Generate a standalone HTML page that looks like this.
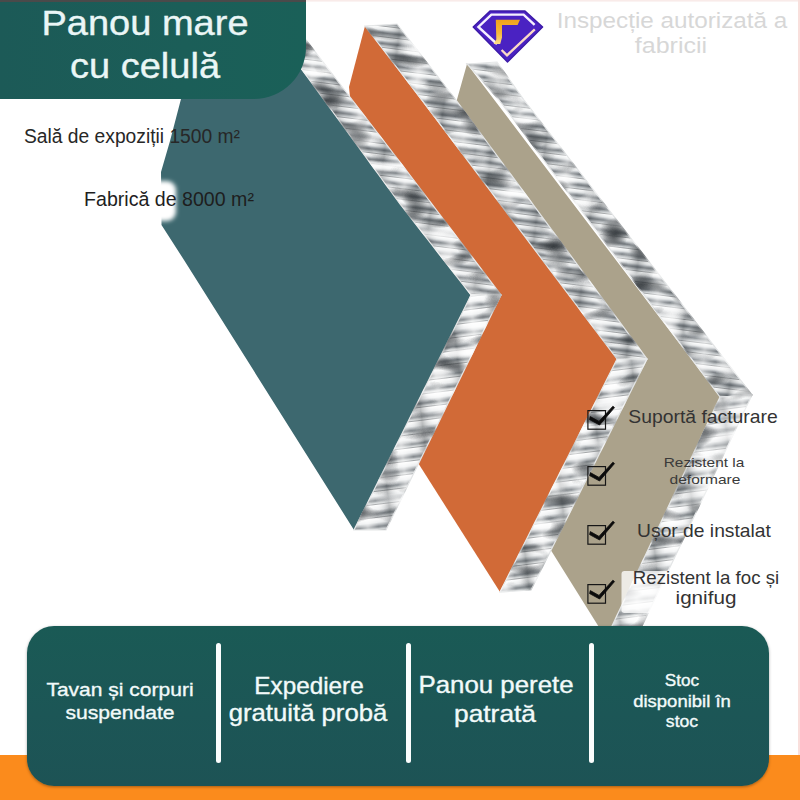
<!DOCTYPE html>
<html lang="ro">
<head>
<meta charset="utf-8">
<title>Panou mare cu celulă</title>
<style>
  html, body { margin: 0; padding: 0; background: #ffffff; }
  body { width: 800px; height: 800px; overflow: hidden; position: relative;
         font-family: "Liberation Sans", "DejaVu Sans", sans-serif; }
  #stage { position: absolute; left: 0; top: 0; width: 800px; height: 800px; overflow: hidden; background: #fff; }
  #art { position: absolute; left: 0; top: 0; width: 800px; height: 800px; display: block; }
  .t { position: absolute; white-space: nowrap; text-align: center; transform: translateX(-50%); transform-origin: 50% 50%; }
  /* header */
  #topstrip { position: absolute; left: 0; top: 0; width: 306px; height: 3px; background: #4a4a4a; }
  #header { position: absolute; left: 0; top: 2px; width: 306px; height: 97px; background: linear-gradient(90deg, #1c5a57 0%, #1b5e58 60%, #1a6058 100%);
            border-bottom-right-radius: 52px; }
  /* bottom */
  #orange { position: absolute; left: 0; top: 755px; width: 800px; height: 45px; background: #fb8b1c; }
  #bar { position: absolute; left: 27px; top: 626.3px; width: 742px; height: 160.2px; background: linear-gradient(180deg, #1a5a55 0%, #1c5656 55%, #1d5355 100%);
         border-radius: 27px; box-shadow: 0 1px 3px rgba(0,0,0,0.35); }
  .sep { position: absolute; width: 5.4px; border-radius: 2.7px; background: #fbfdfd; top: 642.5px; height: 120.5px; }
  .ck { position: absolute; overflow: visible; }
  .ck rect { fill: none; stroke: #161616; stroke-width: 1.2; }
  .ck polygon { fill: #0b0b0b; stroke: #0b0b0b; stroke-width: 0.8; stroke-linejoin: round; }
  .w { color: #f4fbfb; }
  .k { color: #2e2e2e; }
</style>
</head>
<body>
<div id="stage">
  <svg id="art" width="800" height="800" viewBox="0 0 800 800">

    <defs>
      <linearGradient id="hcg" x1="0" y1="0" x2="0" y2="1">
        <stop offset="0" stop-color="#3f4448"/>
        <stop offset="0.09" stop-color="#fbfcfc"/>
        <stop offset="0.36" stop-color="#e4e7e8"/>
        <stop offset="0.50" stop-color="#a9aeb2"/>
        <stop offset="0.66" stop-color="#6f757a"/>
        <stop offset="0.84" stop-color="#aeb3b6"/>
        <stop offset="1" stop-color="#d9dcde"/>
      </linearGradient>
      <linearGradient id="hcv" x1="0" y1="0" x2="1" y2="0">
        <stop offset="0" stop-color="#ffffff" stop-opacity="0.55"/>
        <stop offset="0.25" stop-color="#ffffff" stop-opacity="0"/>
        <stop offset="0.55" stop-color="#20262a" stop-opacity="0.28"/>
        <stop offset="0.8" stop-color="#ffffff" stop-opacity="0.1"/>
        <stop offset="1" stop-color="#ffffff" stop-opacity="0.55"/>
      </linearGradient>
      <pattern id="hcA" width="53" height="10.6" patternUnits="userSpaceOnUse" patternTransform="rotate(7)">
        <rect width="53" height="10.6" fill="url(#hcg)"/>
        <rect width="53" height="10.6" fill="url(#hcv)"/>
      </pattern>
      <linearGradient id="hcg2" x1="0" y1="0" x2="0" y2="1">
        <stop offset="0" stop-color="#4a5054"/>
        <stop offset="0.08" stop-color="#ffffff"/>
        <stop offset="0.42" stop-color="#eceeef"/>
        <stop offset="0.58" stop-color="#b7bbbe"/>
        <stop offset="0.76" stop-color="#7a8085"/>
        <stop offset="0.9" stop-color="#c5c9cb"/>
        <stop offset="1" stop-color="#e8eaeb"/>
      </linearGradient>
      <pattern id="hcB" width="43" height="13" patternUnits="userSpaceOnUse" patternTransform="rotate(-7)">
        <rect width="43" height="13" fill="url(#hcg2)"/>
        <rect width="43" height="13" fill="url(#hcv)"/>
      </pattern>
      <filter id="foil" filterUnits="userSpaceOnUse" x="0" y="0" width="800" height="800" color-interpolation-filters="sRGB">
        <feTurbulence type="fractalNoise" baseFrequency="0.035 0.075" numOctaves="1" seed="4" result="n"/>
        <feColorMatrix in="n" type="matrix" values="0 0 0 0 0  0 0 0 0 0  0 0 0 0 0  3.0 0 0 0 -1.55" result="a"/>
        <feFlood flood-color="#2b3034" result="dk"/>
        <feComposite in="dk" in2="a" operator="in" result="dark"/>
        <feColorMatrix in="n" type="matrix" values="0 0 0 0 0  0 0 0 0 0  0 0 0 0 0  0 -3.6 0 0 1.75" result="b"/>
        <feFlood flood-color="#ffffff" result="wh"/>
        <feComposite in="wh" in2="b" operator="in" result="light"/>
        <feMerge result="ov"><feMergeNode in="light"/><feMergeNode in="dark"/></feMerge>
        <feComposite in="ov" in2="SourceAlpha" operator="in" result="ovc"/>
        <feMerge><feMergeNode in="SourceGraphic"/><feMergeNode in="ovc"/></feMerge>
      </filter>
      <filter id="soft" x="-30%" y="-30%" width="160%" height="160%"><feGaussianBlur stdDeviation="2.2"/></filter>
      <filter id="soft4" x="-30%" y="-30%" width="160%" height="160%"><feGaussianBlur stdDeviation="4"/></filter>
    </defs>

    <!-- beige panel (back) -->
    <g id="beige">
      <polygon points="467,64 720,397 607,640 552,552 500,470 456,103" fill="#aba28b"/>
      <polygon points="467,64 497,62 524,100 752,395 720,397 499,100 471,68" fill="url(#hcA)" stroke="#e3e5e6" stroke-width="1.2" filter="url(#foil)"/>
      <polygon points="720,397 752,395 642,626 637,640 607,640 612,626" fill="url(#hcB)" stroke="#e3e5e6" stroke-width="1.2" filter="url(#foil)"/>
    </g>
    <!-- orange panel (middle) -->
    <g id="orangep">
      <polygon points="365,26 617,359 500,592 420,466 380,400 349,87" fill="#d16a37"/>
      <polygon points="365,26 397,24 456,100 647,359 617,359 422,100 368,30" fill="url(#hcA)" stroke="#e3e5e6" stroke-width="1.2" filter="url(#foil)"/>
      <polygon points="617,359 647,359 531,590 500,592" fill="url(#hcB)" stroke="#e3e5e6" stroke-width="1.2" filter="url(#foil)"/>
    </g>
    <!-- teal panel (front) -->
    <g id="tealp">
      <polygon points="181,99 181,50 288,50 300,67 400,204 471,295 354,530 184,260 161.5,225 161,172 170,141" fill="#3d686f"/>
      <polygon points="288,50 296,28 306,40 400,162 501,295 471,295 400,204 300,67" fill="url(#hcA)" stroke="#e3e5e6" stroke-width="1.2" filter="url(#foil)"/>
      <polygon points="471,295 501,295 386,530 354,530" fill="url(#hcB)" stroke="#e3e5e6" stroke-width="1.2" filter="url(#foil)"/>
    </g>
    <!-- translucent retouch patches behind checklist text -->
    <polygon points="712,434 752,434 716,506 680,506" fill="#ffffff" opacity="0.36" filter="url(#soft)"/>
    <rect x="716" y="405" width="84" height="28" rx="3" fill="#ffffff" opacity="0.42" filter="url(#soft)"/>
    <rect x="621.5" y="571" width="172" height="42" rx="3" fill="#ffffff" opacity="0.78"/>
    <!-- faint pink frame lines -->
    <rect x="306" y="0" width="494" height="1.6" fill="#f9ebe9"/>
    <rect x="798" y="0" width="2" height="756" fill="#f9dfdc"/>
    <!-- retouch blob left of teal panel -->
    <rect x="146" y="181" width="30" height="40" rx="9" fill="#ffffff" filter="url(#soft)"/>
  </svg>


  <!-- left captions -->

  <!-- top right badge -->
  <svg id="logo" style="position:absolute; left:470px; top:6.4px;" width="76" height="60" viewBox="0 0 76 60">
    <defs>
      <linearGradient id="gold" x1="0" y1="0" x2="0" y2="1">
        <stop offset="0" stop-color="#f0a21c"/>
        <stop offset="0.55" stop-color="#f6b93a"/>
        <stop offset="1" stop-color="#fbdc8a"/>
      </linearGradient>
    </defs>
    <polygon points="20,5 55,5 72.6,21 37.5,56 3.2,21" fill="#4a22c2" stroke="#3c1aa8" stroke-width="1.4" stroke-linejoin="round"/>
    <polyline points="27,38 8.4,21 21.4,8.6 53.6,8.6 64.6,18.8" fill="none" stroke="#f6f0ff" stroke-width="2.4" stroke-linejoin="miter"/>
    <polyline points="31.6,44 37,49.3 64.8,23.4" fill="none" stroke="#fbd9c6" stroke-width="2.4" stroke-linejoin="miter"/>
    <polygon points="25.8,13.8 50,13.8 47.6,19 32,19 32,31.5 30.2,38 23.6,38 26.3,33.6" fill="url(#gold)"/>
  </svg>

  <!-- checklist -->
  <svg class="ck" style="left:587px; top:410.2px;" width="20" height="20" viewBox="0 0 20 20"><rect x="0.9" y="0.6" width="17.6" height="18.6" /><polygon points="3.3,6.6 12.0,11.4 25.9,-3.8 27.5,-2.4 12.6,15.0 2.6,9.6"/></svg>
  <svg class="ck" style="left:587px; top:466.2px;" width="20" height="20" viewBox="0 0 20 20"><rect x="0.9" y="0.6" width="17.6" height="18.6" /><polygon points="3.3,6.6 12.0,11.4 25.9,-3.8 27.5,-2.4 12.6,15.0 2.6,9.6"/></svg>
  <svg class="ck" style="left:587px; top:525.0px;" width="20" height="20" viewBox="0 0 20 20"><rect x="0.9" y="0.6" width="17.6" height="18.6" /><polygon points="3.3,6.6 12.0,11.4 25.9,-3.8 27.5,-2.4 12.6,15.0 2.6,9.6"/></svg>
  <svg class="ck" style="left:587px; top:583.8px;" width="20" height="20" viewBox="0 0 20 20"><rect x="0.9" y="0.6" width="17.6" height="18.6" /><polygon points="3.3,6.6 12.0,11.4 25.9,-3.8 27.5,-2.4 12.6,15.0 2.6,9.6"/></svg>


  <div id="topstrip"></div>
  <div id="header"></div>

  <div id="orange"></div>
  <div id="bar"></div>
  <div class="sep" style="left:216.1px;"></div>
  <div class="sep" style="left:405.6px;"></div>
  <div class="sep" style="left:588.8px;"></div>

  <div class="t" id="hdr1" style="left:145.30px; top:2.53px; font-size:34.4px; line-height:41.3px; color:#eaf6f6; -webkit-text-stroke:0.35px #eaf6f6; transform:translateX(-50%) scaleX(1.1059);">Panou mare</div>
  <div class="t" id="hdr2" style="left:144.60px; top:46.43px; font-size:34.4px; line-height:41.3px; color:#eaf6f6; -webkit-text-stroke:0.35px #eaf6f6; transform:translateX(-50%) scaleX(1.1059);">cu celulă</div>
  <div class="t" id="cap1" style="left:131.90px; top:124.94px; font-size:19.5px; line-height:23.4px; color:#272727; transform:translateX(-50%) scaleX(0.9862);">Sală de expoziții 1500 m²</div>
  <div class="t" id="cap2" style="left:169.20px; top:187.91px; font-size:19.3px; line-height:23.2px; color:#1e1e1e; transform:translateX(-50%) scaleX(1.0156);">Fabrică de 8000 m²</div>
  <div class="t" id="insp1" style="left:671.90px; top:8.10px; font-size:21.8px; line-height:26.2px; color:#d7d7d7; transform:translateX(-50%) scaleX(1.1132);">Inspecție autorizată a</div>
  <div class="t" id="insp2" style="left:671.00px; top:33.10px; font-size:21.8px; line-height:26.2px; color:#d7d7d7; transform:translateX(-50%) scaleX(1.1475);">fabricii</div>
  <div class="t" id="c1" style="left:703.25px; top:406.22px; font-size:19.0px; line-height:22.8px; color:#333333; transform:translateX(-50%) scaleX(1.0171);">Suportă facturare</div>
  <div class="t" id="c2a" style="left:704.20px; top:455.04px; font-size:13.6px; line-height:16.3px; color:#3a3a3a; transform:translateX(-50%) scaleX(1.1352);">Rezistent la</div>
  <div class="t" id="c2b" style="left:704.85px; top:471.84px; font-size:13.6px; line-height:16.3px; color:#3a3a3a; transform:translateX(-50%) scaleX(1.1435);">deformare</div>
  <div class="t" id="c3" style="left:704.40px; top:519.99px; font-size:18.5px; line-height:22.2px; color:#333333; transform:translateX(-50%) scaleX(1.0406);">Ușor de instalat</div>
  <div class="t" id="c4a" style="left:705.70px; top:567.59px; font-size:18.2px; line-height:21.8px; color:#333333; transform:translateX(-50%) scaleX(1.0268);">Rezistent la foc și</div>
  <div class="t" id="c4b" style="left:705.85px; top:587.69px; font-size:18.2px; line-height:21.8px; color:#333333; transform:translateX(-50%) scaleX(1.1365);">ignifug</div>
  <div class="t" id="b1a" style="left:120.38px; top:677.60px; font-size:19.2px; line-height:23.0px; color:#f2fafa; -webkit-text-stroke:0.35px #f2fafa; transform:translateX(-50%) scaleX(1.0951);">Tavan și corpuri</div>
  <div class="t" id="b1b" style="left:120.00px; top:701.10px; font-size:19.2px; line-height:23.0px; color:#f2fafa; -webkit-text-stroke:0.35px #f2fafa; transform:translateX(-50%) scaleX(1.1000);">suspendate</div>
  <div class="t" id="b2a" style="left:308.50px; top:672.09px; font-size:23.4px; line-height:28.1px; color:#f2fafa; -webkit-text-stroke:0.35px #f2fafa; transform:translateX(-50%) scaleX(1.0385);">Expediere</div>
  <div class="t" id="b2b" style="left:308.38px; top:699.09px; font-size:23.4px; line-height:28.1px; color:#f2fafa; -webkit-text-stroke:0.35px #f2fafa; transform:translateX(-50%) scaleX(1.0983);">gratuită probă</div>
  <div class="t" id="b3a" style="left:495.62px; top:671.81px; font-size:23.2px; line-height:27.8px; color:#f2fafa; -webkit-text-stroke:0.35px #f2fafa; transform:translateX(-50%) scaleX(1.1141);">Panou perete</div>
  <div class="t" id="b3b" style="left:495.38px; top:700.56px; font-size:23.2px; line-height:27.8px; color:#f2fafa; -webkit-text-stroke:0.35px #f2fafa; transform:translateX(-50%) scaleX(1.1354);">patrată</div>
  <div class="t" id="b4a" style="left:682.12px; top:670.61px; font-size:16.0px; line-height:19.2px; color:#f2fafa; -webkit-text-stroke:0.35px #f2fafa; transform:translateX(-50%) scaleX(1.0703);">Stoc</div>
  <div class="t" id="b4b" style="left:681.62px; top:691.86px; font-size:16.0px; line-height:19.2px; color:#f2fafa; -webkit-text-stroke:0.35px #f2fafa; transform:translateX(-50%) scaleX(1.1559);">disponibil în</div>
  <div class="t" id="b4c" style="left:682.25px; top:711.86px; font-size:16.0px; line-height:19.2px; color:#f2fafa; -webkit-text-stroke:0.35px #f2fafa; transform:translateX(-50%) scaleX(1.1000);">stoc</div>
</div>
</body>
</html>
